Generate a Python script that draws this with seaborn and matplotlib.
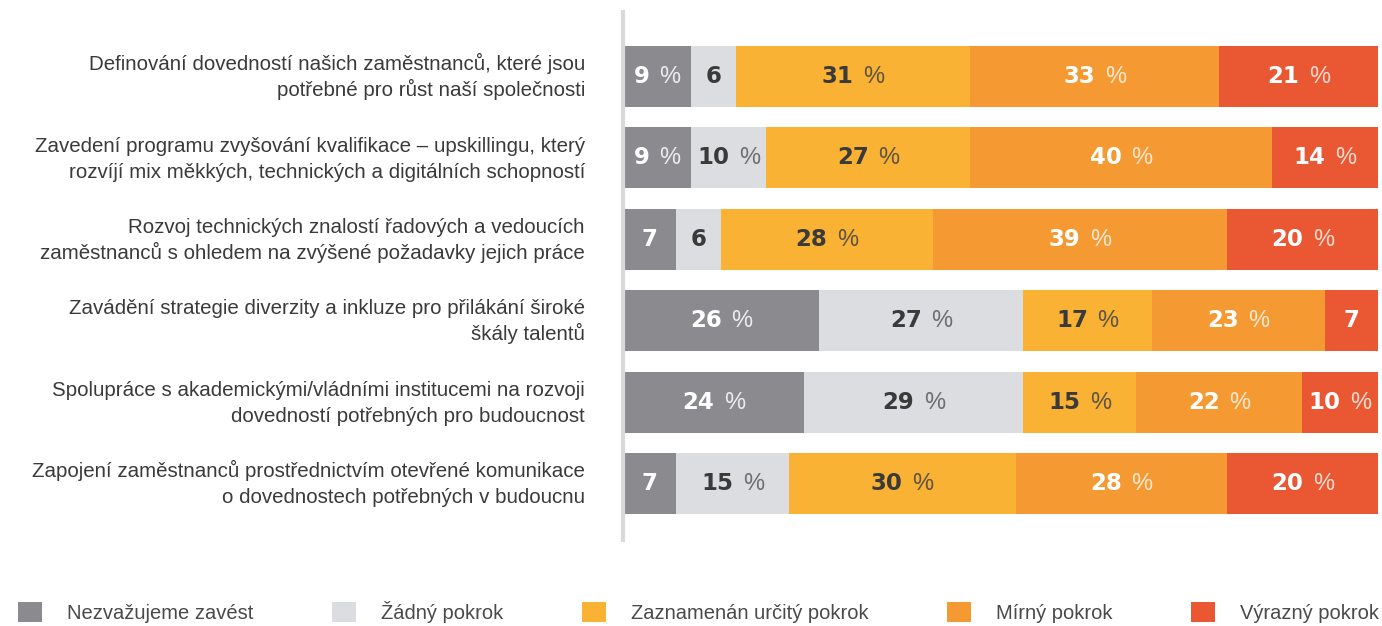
import numpy as np
import pandas as pd
import matplotlib
matplotlib.use("Agg")
import matplotlib.pyplot as plt
import matplotlib.transforms as mtransforms
import seaborn as sns
from matplotlib.offsetbox import TextArea, HPacker, AnnotationBbox
from matplotlib.patches import Patch

categories = [
    "Definování dovedností našich zaměstnanců, které jsou\npotřebné pro růst naší společnosti",
    "Zavedení programu zvyšování kvalifikace – upskillingu, který\nrozvíjí mix měkkých, technických a digitálních schopností",
    "Rozvoj technických znalostí řadových a vedoucích\nzaměstnanců s ohledem na zvýšené požadavky jejich práce",
    "Zavádění strategie diverzity a inkluze pro přilákání široké\nškály talentů",
    "Spolupráce s akademickými/vládními institucemi na rozvoji\ndovedností potřebných pro budoucnost",
    "Zapojení zaměstnanců prostřednictvím otevřené komunikace\no dovednostech potřebných v budoucnu",
]
series_names = ["Nezvažujeme zavést", "Žádný pokrok", "Zaznamenán určitý pokrok",
                "Mírný pokrok", "Výrazný pokrok"]
nezvazujeme = [9, 9, 7, 26, 24, 7]
zadny = [6, 10, 6, 27, 29, 15]
urcity = [31, 27, 28, 17, 15, 30]
mirny = [33, 40, 39, 23, 22, 28]
vyrazny = [21, 14, 20, 7, 10, 20]

colors = ["#8b8b8f", "#dcdde0", "#f9b233", "#f59a33", "#e95733"]
num_colors = ["#ffffff", "#3a3a3a", "#3a3a3a", "#ffffff", "#ffffff"]
pct_colors = ["#ececee", "#6e6e70", "#5e5446", "#fde8d0", "#fbdccf"]

sns.set_theme(style="white")
plt.rcParams["font.family"] = ["Liberation Sans", "DejaVu Sans"]

series = [nezvazujeme, zadny, urcity, mirny, vyrazny]
vals = np.array(series, dtype=float)
cum = np.cumsum(vals, axis=0)

fig = plt.figure(figsize=(13.82, 6.26), dpi=100)
ax = fig.add_axes([623 / 1382, 1 - 540 / 626, 755 / 1382, 528 / 626])

for i in range(len(series) - 1, -1, -1):
    df = pd.DataFrame({"cat": categories, "cum": cum[i]})
    sns.barplot(data=df, x="cum", y="cat", orient="h", color=colors[i],
                saturation=1, width=0.75, ax=ax, linewidth=0, edgecolor="none")

ax.set_xlim(0, 100)
ax.set_ylim(5 + (540 - 483.5) / 81.4, -(76.5 - 12) / 81.4)
ax.set_xlabel("")
ax.set_ylabel("")
ax.set_xticks([])
ax.set_yticks(range(len(categories)))
ax.set_yticklabels([])
ax.tick_params(axis="y", length=0)
for s in ["top", "right", "bottom"]:
    ax.spines[s].set_visible(False)
ax.spines["left"].set_color("#d9d9d9")
ax.spines["left"].set_linewidth(3)

# category labels (two lines each, fixed baseline offsets)
trans = mtransforms.blended_transform_factory(ax.transAxes, ax.transData)
for j, cat in enumerate(categories):
    lines = cat.split("\n")
    offsets = [4.5, -14.2]
    for line, off in zip(lines, offsets):
        ax.annotate(line, xy=(0, j), xycoords=trans, xytext=(-27.4, off),
                    textcoords="offset points", ha="right", va="baseline",
                    fontsize=14.8, color="#3a3a3a", annotation_clip=False)

# value labels
for i in range(len(series)):
    for j in range(len(categories)):
        v = vals[i, j]
        xc = cum[i, j] - v / 2
        parts = [TextArea(f"{int(v)}", textprops=dict(fontsize=16.5, fontweight="bold",
                                                      family="DejaVu Sans",
                                                      color=num_colors[i]))]
        if v > 7:
            parts.append(TextArea("%", textprops=dict(fontsize=17, fontweight="normal",
                                                      color=pct_colors[i])))
        box = HPacker(children=parts, align="baseline", pad=0, sep=7)
        ab = AnnotationBbox(box, (xc, j), frameon=False, box_alignment=(0.5, 0.5),
                            pad=0)
        ax.add_artist(ab)

handles = [Patch(facecolor=c, edgecolor="none") for c in colors]
leg = fig.legend(handles, series_names, ncol=5, loc="lower left",
                 bbox_to_anchor=(0.0, 0.0), frameon=False,
                 fontsize=14.5, handlelength=1.19, handleheight=1.1,
                 handletextpad=1.24, columnspacing=3.9, borderpad=0.0,
                 borderaxespad=0.0)
leg.set_bbox_to_anchor((18 / 1382, 3 / 626), transform=fig.transFigure)
for t in leg.get_texts():
    t.set_color("#4a4a4a")

fig.savefig("out.png", dpi=100)
